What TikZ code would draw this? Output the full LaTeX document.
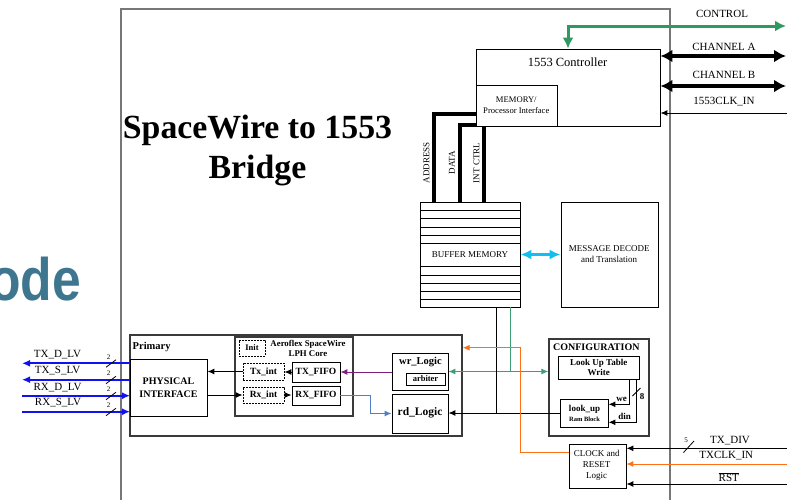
\documentclass[tikz,border=0pt]{standalone}
\usepackage{fontspec}
\setmainfont{Liberation Serif}
\newfontfamily\odefont{Liberation Sans}
\usetikzlibrary{arrows.meta}
\newcommand\fsz[2]{\fontsize{#1}{#2}\selectfont}
\definecolor{maingray}{HTML}{777777}
\definecolor{boxgray}{HTML}{3A3A3A}
\definecolor{ctlgreen}{HTML}{2E9A62}
\definecolor{wgreen}{HTML}{3C9E72}
\definecolor{cyanarr}{HTML}{12BEF0}
\definecolor{bluearr}{HTML}{1010F0}
\definecolor{purparr}{HTML}{7F1F7F}
\definecolor{steelarr}{HTML}{4F7FC7}
\definecolor{orangearr}{HTML}{FF7015}
\definecolor{odeteal}{HTML}{3E7690}
\tikzset{
  box/.style={draw=black, line width=0.9pt, inner sep=0pt},
  grpbox/.style={draw=boxgray, line width=1.3pt, inner sep=0pt},
  dotbox/.style={draw=black, line width=0.8pt, inner sep=0pt, dash pattern=on 1.6pt off 1.4pt},
  txt/.style={inner sep=0pt, align=center},
  lab/.style={inner sep=0pt, font=\fsz{11}{13}},
  arr/.style={line width=1pt, -{Latex[length=7pt,width=6pt]}},
  bluearrow/.style={line width=1.7pt, draw=bluearr, -{Latex[length=8pt,width=7pt]}},
  bigdbl/.style={line width=4pt, {Latex[length=12pt,width=13pt]}-{Latex[length=12pt,width=13pt]}},
  bus/.style={line width=4pt, line join=miter},
  slash/.style={line width=0.8pt},
}
\begin{document}
\begin{tikzpicture}[x=1pt,y=-1pt]
\useasboundingbox (0,0) rectangle (787,499);
\clip (0,0) rectangle (787,499);

% partial slide title
\node[anchor=base east, text=odeteal, inner sep=0pt, xscale=0.86, transform shape, font=\odefont\bfseries\fsz{60}{60}] (ode) at (81,300) {ode};

% main bridge box
\draw[line width=1.6pt, draw=maingray] (121,510) -- (121,9) -- (670,9) -- (670,510);

% title
\node[txt, anchor=base, font=\bfseries\fsz{33.8}{38}] (t1) at (257.5,138.3) {SpaceWire to 1553};
\node[txt, anchor=base, font=\bfseries\fsz{33.8}{38}] (t2) at (257.5,178.3) {Bridge};

% 1553 controller
\node[box, minimum width=184pt, minimum height=77pt] (ctrl) at (568,87.5) {};
\node[txt, font=\fsz{12.5}{14}] (ctrltxt) at (567.5,62) {1553 Controller};
\node[box, minimum width=81pt, minimum height=41pt] (mem) at (516.5,105.5) {};
\node[txt, font=\fsz{8.6}{11.4}] (memtxt) at (516.3,105) {MEMORY/\\Processor Interface};

% right side signals
\coordinate (ctlE) at (786,26);
\draw[line width=3pt, draw=ctlgreen, {Latex[length=11pt,width=11pt]}-{Latex[length=11pt,width=11pt]}] (ctrl.north) |- (ctlE);
\node[lab] (ctltxt) at (722,14) {CONTROL};
\coordinate (chA) at (786,56);
\coordinate (chB) at (786,86);
\coordinate (clk) at (787,113);
\draw[bigdbl] (chA -| ctrl.east) -- (chA);
\draw[bigdbl] (chB -| ctrl.east) -- (chB);
\draw[arr] (clk) -- (clk -| ctrl.east);
\node[lab] (chAtxt) at (724,46.5) {CHANNEL A};
\node[lab] (chBtxt) at (724,75) {CHANNEL B};
\node[lab] (clktxt) at (724,101.7) {1553CLK\_IN};

% buffer memory
\node[box, minimum width=100pt, minimum height=105pt] (buf) at (470,254.5) {};
\foreach \yy in {210.7,218.7,227,235,243,266.7,275,283.3,291,299}
  \draw[line width=0.9pt] (buf.west |- 0,\yy) -- (buf.east |- 0,\yy);
\node[txt, font=\fsz{9}{10}] (buftxt) at (470,255) {BUFFER MEMORY};

% message decode
\node[box, minimum width=97pt, minimum height=105pt] (msg) at (609.5,254.5) {};
\node[txt, font=\fsz{9}{11.6}] (msgtxt) at (609.2,254.2) {MESSAGE DECODE\\and Translation};
\draw[line width=3pt, draw=cyanarr, {Latex[length=11pt,width=10pt]}-{Latex[length=11pt,width=10pt]}] (buf.east) -- (msg.west);

% buses
\coordinate (a1) at (434,114);
\coordinate (d1) at (460,125);
\coordinate (i1) at (484,126);
\draw[bus] (mem.west |- a1) -| (buf.north -| a1);
\draw[bus] (mem.west |- d1) -| (buf.north -| d1);
\draw[bus] (mem.south -| i1) -- (buf.north -| i1);
\node[txt, rotate=90, font=\fsz{9}{10}] (addrtxt) at (426.5,162.5) {ADDRESS};
\node[txt, rotate=90, font=\fsz{9}{10}] (datatxt) at (452,162.5) {DATA};
\node[txt, rotate=90, font=\fsz{9}{10}] (ictxt) at (476.5,163) {INT CTRL};

% primary group
\node[grpbox, minimum width=332pt, minimum height=101pt] (prim) at (296,385.5) {};
\node[txt, anchor=west, font=\bfseries\fsz{10.5}{12}] (primtxt) at (132.5,347.3) {Primary};
\node[box, minimum width=76.5pt, minimum height=57pt] (phy) at (168.75,387.5) {};
\node[txt, font=\bfseries\fsz{10}{12.5}] (phytxt) at (168.5,387.5) {PHYSICAL\\INTERFACE};

% Aeroflex core
\node[grpbox, minimum width=118pt, minimum height=79pt] (core) at (294,376.5) {};
\node[txt, font=\bfseries\fsz{8.8}{10}] (coretxt) at (308,348.3) {Aeroflex SpaceWire\\LPH Core};
\node[dotbox, minimum width=26pt, minimum height=16pt] (init) at (252,348) {};
\node[txt, font=\bfseries\fsz{8.5}{10}] (inittxt) at (252,348) {Init};
\node[dotbox, minimum width=41pt, minimum height=17pt] (txint) at (263.5,371.5) {};
\node[txt, font=\bfseries\fsz{9.5}{10}] (txinttxt) at (263.5,371.5) {Tx\_int};
\node[dotbox, minimum width=41pt, minimum height=16pt] (rxint) at (263.5,395) {};
\node[txt, font=\bfseries\fsz{9.5}{10}] (rxinttxt) at (263.5,395) {Rx\_int};
\node[box, minimum width=48pt, minimum height=20pt] (txfifo) at (316,372) {};
\node[txt, font=\bfseries\fsz{9.5}{10}] (txfifotxt) at (316,372) {TX\_FIFO};
\node[box, minimum width=48pt, minimum height=19pt] (rxfifo) at (316,395.5) {};
\node[txt, font=\bfseries\fsz{9.5}{10}] (rxfifotxt) at (316,395.5) {RX\_FIFO};

% wr / rd logic
\node[box, minimum width=56pt, minimum height=37pt] (wr) at (420,371.5) {};
\node[txt, font=\bfseries\fsz{10.5}{12}] (wrtxt) at (420.5,361.7) {wr\_Logic};
\node[box, minimum width=39pt, minimum height=12pt] (arb) at (425.5,379) {};
\node[txt, font=\bfseries\fsz{8.5}{10}] (arbtxt) at (425.5,379) {arbiter};
\node[box, minimum width=56pt, minimum height=39pt] (rd) at (420,413.5) {};
\node[txt, font=\bfseries\fsz{11.5}{12}] (rdtxt) at (420,413) {rd\_Logic};

% left low-voltage signals
\coordinate (txd) at (22,363.3);
\coordinate (txs) at (22,379.7);
\coordinate (rxd) at (22,395.7);
\coordinate (rxs) at (22,411.7);
\draw[bluearrow] (phy.west |- txd) -- (txd);
\draw[bluearrow] (phy.west |- txs) -- (txs);
\draw[bluearrow] (rxd) -- (phy.west |- rxd);
\draw[bluearrow] (rxs) -- (phy.west |- rxs);
\foreach \yy in {363.3,379.7,395.7,411.7}{
  \draw[slash] (106,\yy+4) -- (116,\yy-3.5);
  \node[txt, font=\fsz{7}{8}] at (108.5,\yy-6.5) {2};
}
\node[lab] (txdtxt) at (57.5,355) {TX\_D\_LV};
\node[lab] (txstxt) at (57.5,370.7) {TX\_S\_LV};
\node[lab] (rxdtxt) at (57.5,387.3) {RX\_D\_LV};
\node[lab] (rxstxt) at (58,402.3) {RX\_S\_LV};

% internal primary connections
\draw[arr] (txint.west) -- (txint.west -| phy.east);
\draw[arr] (phy.east |- rxint) -- (rxint.west);
\draw[arr] (txfifo.west) -- (txfifo.west -| txint.east);
\draw[arr] (rxint.east) -- (rxint.east -| rxfifo.west);
\draw[arr, draw=purparr] (wr.west |- txfifo) -- (txfifo.east);
\draw[arr, draw=steelarr] (rxfifo.east) -- ++(30,0) |- (rd.west);

% configuration
\node[grpbox, minimum width=100pt, minimum height=97pt] (cfg) at (599,387.5) {};
\node[txt, font=\bfseries\fsz{10}{12}] (cfgtxt) at (596.3,347.3) {CONFIGURATION};
\node[box, minimum width=81pt, minimum height=23pt] (lut) at (598.5,367.5) {};
\node[txt, font=\bfseries\fsz{9}{10.4}] (luttxt) at (598.8,367.5) {Look Up Table\\Write};
\node[box, minimum width=48pt, minimum height=28pt] (lookup) at (584,413) {};
\node[txt, font=\bfseries\fsz{9}{10}] (lookuptxt) at (584.5,409.3) {look\_up};
\node[txt, font=\bfseries\fsz{6.5}{8}] (ramtxt) at (584.5,418.8) {Ram Block};
\coordinate (we1) at (629,404.3);
\coordinate (din1) at (636.7,422.3);
\draw[arr] (lut.south -| we1) |- (lookup.east |- we1);
\draw[arr] (lut.south -| din1) |- (lookup.east |- din1);
\draw[slash] (632.5,396) -- (640.5,388);
\node[txt, font=\bfseries\fsz{9}{10}] (eighttxt) at (642,397) {8};
\node[txt, font=\bfseries\fsz{9}{10}] (wetxt) at (621.7,399.3) {we};
\node[txt, font=\bfseries\fsz{9}{10}] (dintxt) at (624.5,416) {din};

% buffer to logic
\coordinate (gj) at (510,371.5);
\draw[line width=1pt, draw=wgreen] (buf.south -| gj) -- (gj);
\draw[line width=1pt, draw=wgreen, {Latex[length=7pt,width=6pt]}-{Latex[length=7pt,width=6pt]}] (wr.east) -- (wr.east -| cfg.west);
\coordinate (bj) at (496.5,413);
\draw[line width=1pt] (buf.south -| bj) -- (bj);
\draw[arr] (lookup.west) -- (lookup.west -| rd.east);

% clock and reset
\node[box, minimum width=57pt, minimum height=44pt] (clock) at (597.5,466) {};
\node[txt, font=\fsz{9}{11.2}] (clocktxt) at (596.7,465.5) {CLOCK and\\RESET\\Logic};
\coordinate (oc) at (520,452.3);
\coordinate (ot) at (520,347.7);
\draw[arr, draw=orangearr] (clock.west |- oc) -- (oc) -- (ot) -- (ot -| prim.east);
\coordinate (txdiv) at (787,448.3);
\coordinate (txclk) at (787,464);
\coordinate (rst) at (787,484);
\draw[arr] (txdiv) -- (txdiv -| clock.east);
\draw[arr, draw=orangearr] (txclk) -- (txclk -| clock.east);
\draw[arr] (rst) -- (rst -| clock.east);
\draw[slash] (683.5,452.5) -- (694,441);
\node[txt, font=\fsz{7}{8}] (fivetxt) at (686,440) {5};
\node[lab] (txdivtxt) at (730,440.7) {TX\_DIV};
\node[lab] (txclktxt) at (726.3,455.7) {TXCLK\_IN};
\node[lab] (rsttxt) at (728.8,477.3) {$\overline{\mbox{RST}}$};
\end{tikzpicture}
\end{document}
